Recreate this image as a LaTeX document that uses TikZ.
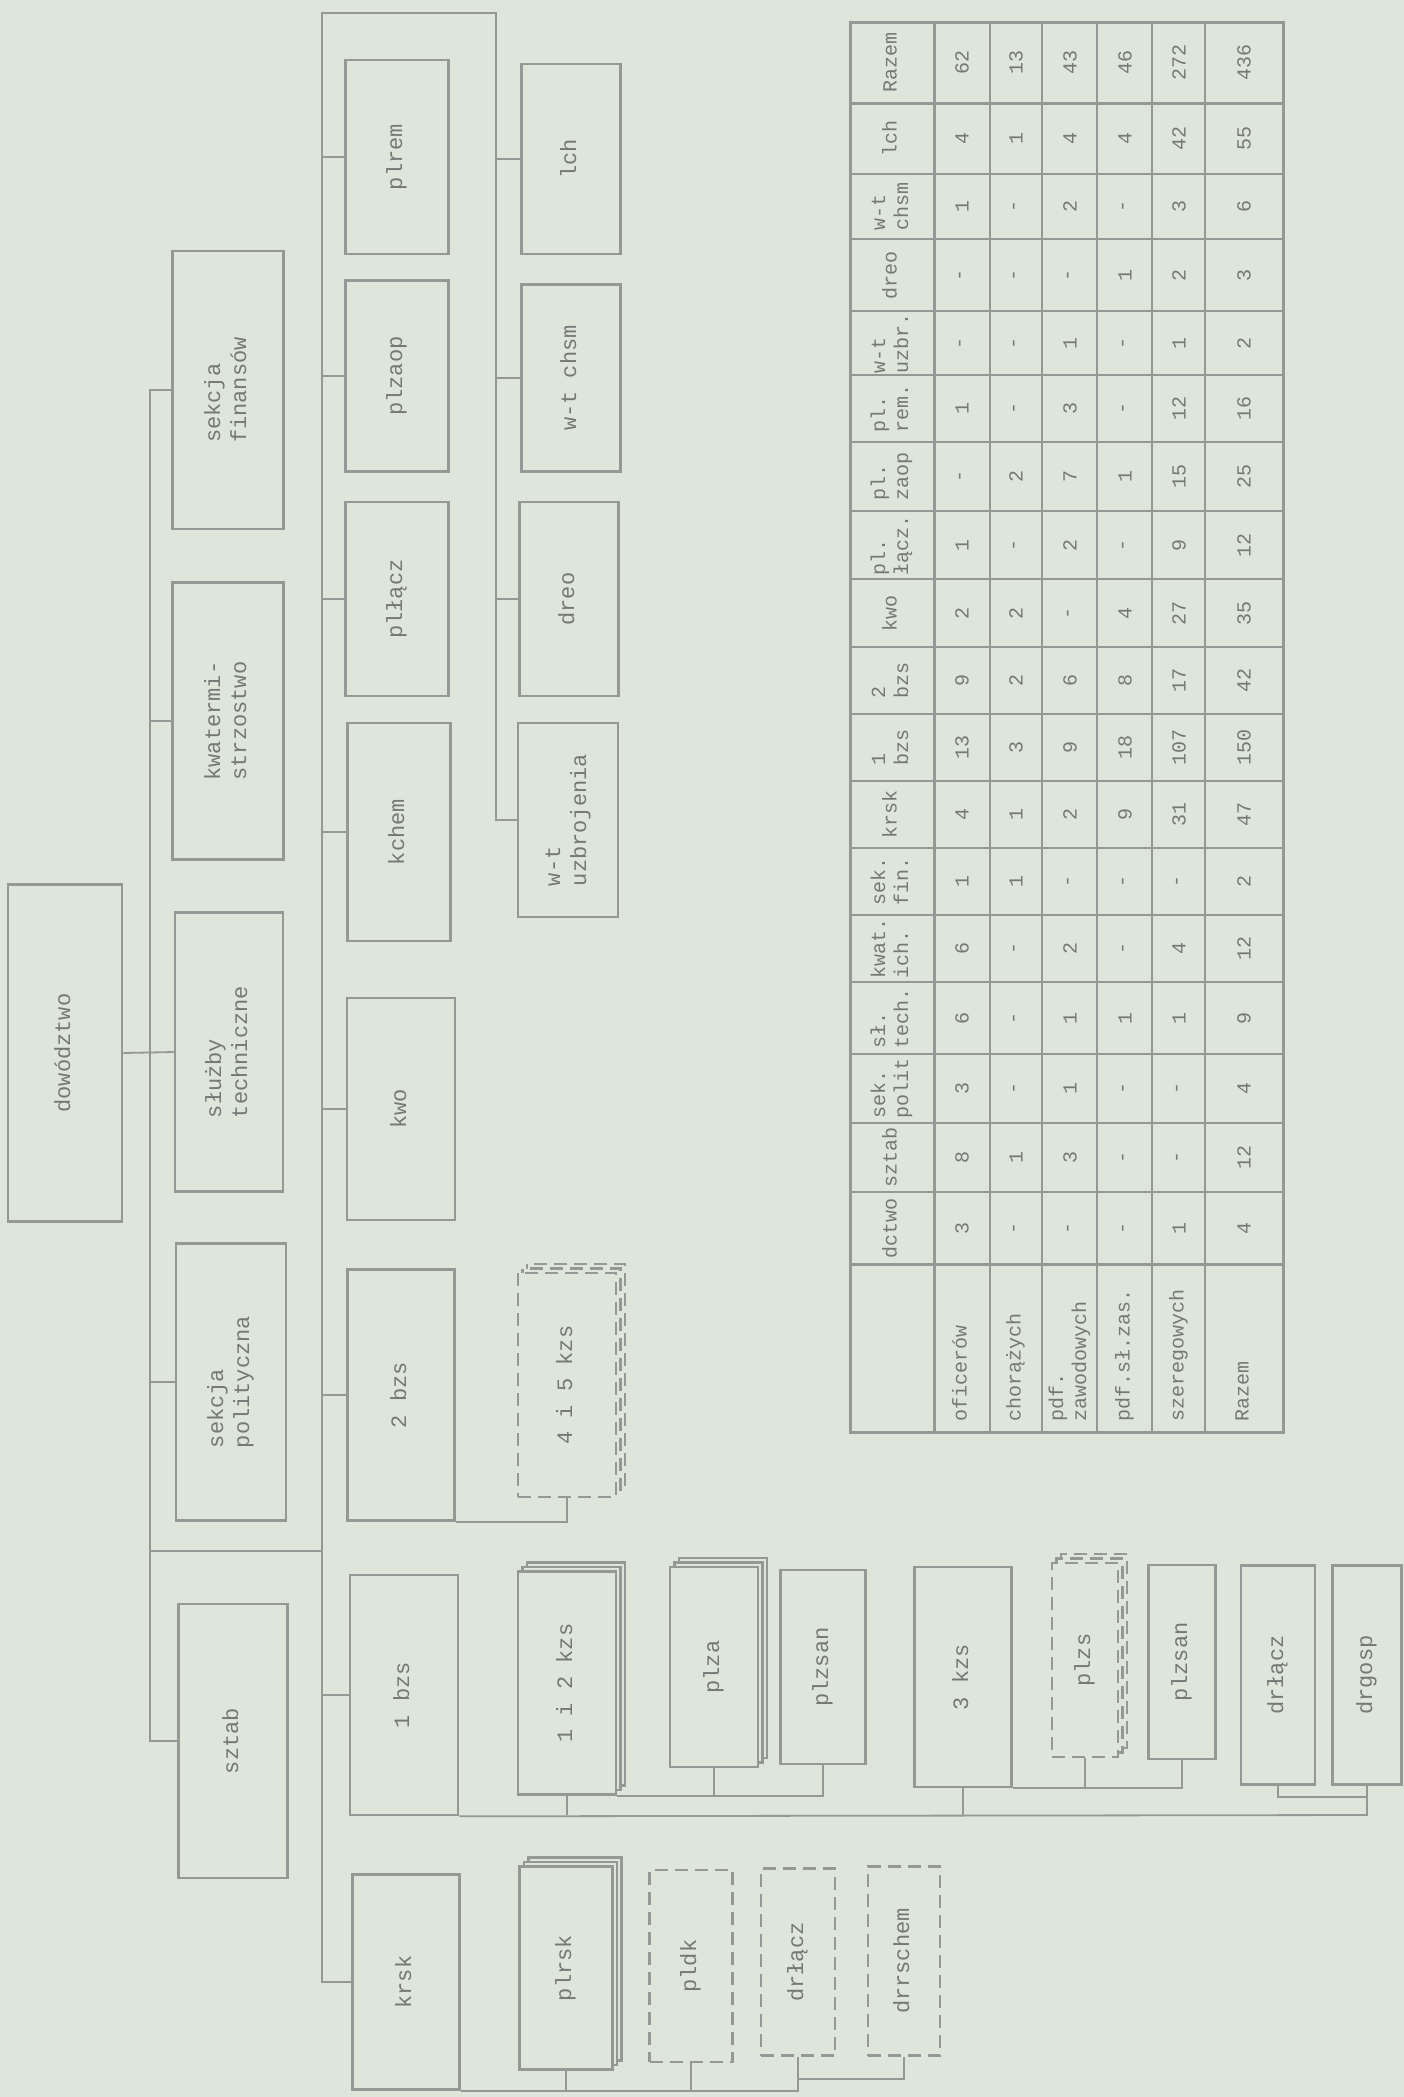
\documentclass[tikz,border=0pt]{standalone}
\usepackage{fontspec}
\usepackage{graphicx}
\setmonofont{Liberation Mono}
\usetikzlibrary{shadows}

\definecolor{paper}{RGB}{222,230,219}
\definecolor{ink}{RGB}{150,152,150}
\definecolor{type}{RGB}{118,120,118}

% label read from bottom to top, lines left aligned
\newcommand{\vlab}[1]{\rotatebox{90}{\begin{tabular}{@{}l@{}}#1\end{tabular}}}

\begin{document}
\begin{tikzpicture}[x=1pt, y=-1pt,
    sz/.style 2 args={minimum width=#1pt, minimum height=#2pt},
    box/.style={draw=ink, line width=2.6pt, fill=paper, inner sep=0pt,
      text=type, font=\ttfamily\fontsize{22}{26}\selectfont},
    stack/.style={box,
      copy shadow={shadow xshift=9pt, shadow yshift=9pt, draw=ink, fill=paper},
      copy shadow={shadow xshift=4.5pt, shadow yshift=4.5pt, draw=ink, fill=paper}},
    dbox/.style={box, dash pattern=on 13pt off 7pt},
    dstack/.style={stack, dash pattern=on 13pt off 7pt},
    link/.style={draw=ink, line width=1.8pt},
    grid/.style={draw=ink, line width=1.8pt},
    cell/.style={inner sep=0pt, text=type,
      font=\ttfamily\fontsize{20}{23}\selectfont}]
  \fill[paper] (0,0) rectangle (1404,2097);
  \useasboundingbox (0,0) rectangle (1404,2097);

  % --- Command, staff and sections ---
  \node[box, sz={114}{337}] (dow) at (65,1053) {\vlab{dowództwo}};
  \node[box, sz={111}{278}] (fin) at (228,390) {\vlab{sekcja\\finansów}};
  \node[box, sz={111}{277}] (kwat) at (228,721) {\vlab{kwatermi-\\strzostwo}};
  \node[box, sz={108}{279}] (tech) at (229,1052) {\vlab{służby\\techniczne}};
  \node[box, sz={110}{277}] (pol) at (231,1382) {\vlab{sekcja\\polityczna}};
  \node[box, sz={109}{274}] (sztab) at (233,1741) {\vlab{sztab}};

  % --- Sub-units ---
  \node[box, sz={103}{194}] (plrem) at (397,157) {\vlab{plrem}};
  \node[box, sz={103}{191}] (plzaop) at (397,376) {\vlab{plzaop}};
  \node[box, sz={103}{194}] (pllacz) at (397,599) {\vlab{plłącz}};
  \node[box, sz={103}{218}] (kchem) at (399,832) {\vlab{kchem}};
  \node[box, sz={108}{222}] (kwo) at (401,1109) {\vlab{kwo}};
  \node[box, sz={107}{251}] (bzs2) at (401,1395) {\vlab{2 bzs}};
  \node[box, sz={108}{240}] (bzs1) at (404,1695) {\vlab{1 bzs}};
  \node[box, sz={107}{215}] (krsk) at (406,1982) {\vlab{krsk}};

  \node[box, sz={99}{190}] (lch) at (571,159) {\vlab{lch}};
  \node[box, sz={99}{187}] (chsm) at (571,378) {\vlab{w-t chsm}};
  \node[box, sz={99}{194}] (dreo) at (569,599) {\vlab{dreo}};
  \node[box, sz={100}{194}] (uzbr) at (568,820) {\vlab{w-t\\uzbrojenia}};
  \node[dstack, sz={98}{224}] (kzs45) at (567,1385) {\vlab{4 i 5 kzs}};
  \node[stack, sz={98}{223}] (kzs12) at (567,1683) {\vlab{1 i 2 kzs}};
  \node[stack, sz={93}{203}] (plrsk) at (566,1968) {\vlab{plrsk}};

  \node[stack, sz={88}{200}] (plza) at (714,1667) {\vlab{plza}};
  \node[box, sz={85}{194}] (plzsanA) at (823,1667) {\vlab{plzsan}};
  \node[box, sz={97}{220}] (kzs3) at (963,1677) {\vlab{3 kzs}};
  \node[dstack, sz={66}{194}] (plzs) at (1085,1660) {\vlab{plzs}};
  \node[box, sz={67}{194}] (plzsanB) at (1182,1662) {\vlab{plzsan}};
  \node[box, sz={74}{219}] (drlaczA) at (1278,1675) {\vlab{drłącz}};
  \node[box, sz={69}{219}] (drgosp) at (1367,1675) {\vlab{drgosp}};

  \node[dbox, sz={83}{192}] (pldk) at (691,1966) {\vlab{pldk}};
  \node[dbox, sz={74}{187}] (drlaczB) at (798,1962) {\vlab{drłącz}};
  \node[dbox, sz={72}{189}] (drrschem) at (904,1961) {\vlab{drrschem}};

  % --- Connectors ---
  \coordinate (sp1) at (150,390);
  \coordinate (sp2) at (322,13);
  \coordinate (sp3) at (496,13);
  \coordinate (j1) at (150,1551);
  \draw[link] (dow.east) -- (tech.west);
  \draw[link] (fin.west) -- (sp1) |- (sztab.west);
  \foreach \n in {kwat,pol}
    \draw[link] (\n.west) -- (\n.west -| sp1);
  \draw[link] (j1) -- (j1 -| sp2);
  \draw[link] (krsk.west) -| (sp2) -- (sp3) |- (uzbr.west);
  \foreach \n in {plrem,plzaop,pllacz,kchem,kwo,bzs2,bzs1}
    \draw[link] (\n.west) -- (\n.west -| sp2);
  \foreach \n in {lch,chsm,dreo}
    \draw[link] (\n.west) -- (\n.west -| sp3);

  % 2 bzs
  \draw[link] (bzs2.south east) -| (kzs45.south);
  % 1 bzs
  \coordinate (busA) at (1367,1815);
  \coordinate (brA) at (1367,1797);
  \draw[link] (bzs1.south east) -- (busA) -- (drgosp.south);
  \draw[link] (drlaczA.south) |- (brA);
  \draw[link] (kzs12.south) -- (kzs12.south |- busA);
  \draw[link] (kzs3.south) -- (kzs3.south |- busA);
  \draw[link] (plza.south) |- (kzs12.south east);
  \draw[link] (plzsanA.south) |- (kzs12.south east);
  \draw[link] (plzsanB.south) |- (kzs3.south east);
  \draw[link] (plzs.south) -- (plzs.south |- kzs3.south east);
  % krsk
  \coordinate (brB) at (798,2079);
  \draw[link] (krsk.south east) -| (drlaczB.south);
  \draw[link] (drrschem.south) |- (brB);
  \draw[link] (plrsk.south) -- (plrsk.south |- krsk.south east);
  \draw[link] (pldk.south) -- (pldk.south |- krsk.south east);

  % --- Table of posts ---
  \foreach \x in {990,1042,1097,1152,1205}
    \draw[grid] (\x,22) -- (\x,1432);
  \foreach \y in {174,239,311,375,442,511,579,647,714,781,848,915,982,1054,1123,1192}
    \draw[grid] (850,\y) -- (1283,\y);
  \draw[grid, line width=3pt] (934,22) -- (934,1432);
  \draw[grid, line width=3pt] (850,103) -- (1283,103);
  \draw[grid, line width=3pt] (850,1264) -- (1283,1264);
  \draw[grid, line width=3pt] (850,22) rectangle (1283,1432);

  \foreach \yc/\hd/\va/\vb/\vc/\vd/\ve/\vf [count=\r] in {
      62.5/Razem/62/13/43/46/272/436,
      138.5/lch/4/1/4/4/42/55,
      206.5/{w-t\\chsm}/1/-/2/-/3/6,
      275/dreo/-/-/-/1/2/3,
      343/{w-t\\uzbr.}/-/-/1/-/1/2,
      408.5/{pl.\\rem.}/1/-/3/-/12/16,
      476.5/{pl.\\zaop}/-/2/7/1/15/25,
      545/{pl.\\łącz.}/1/-/2/-/9/12,
      613/kwo/2/2/-/4/27/35,
      680.5/{2\\bzs}/9/2/6/8/17/42,
      747.5/{1\\bzs}/13/3/9/18/107/150,
      814.5/krsk/4/1/2/9/31/47,
      881.5/{sek.\\fin.}/1/1/-/-/-/2,
      948.5/{kwat.\\ich.}/6/-/2/-/4/12,
      1018/{sł.\\tech.}/6/-/1/1/1/9,
      1088.5/{sek.\\polit}/3/-/1/-/-/4,
      1157.5/sztab/8/1/3/-/-/12,
      1228/dctwo/3/-/-/-/1/4} {
    \node[cell] (h\r) at (892,\yc) {\vlab{\hd}};
    \foreach \v/\xc [count=\c] in {\va/962,\vb/1016,\vc/1070,\vd/1125,\ve/1179,\vf/1244}
      \node[cell] (v\r-\c) at (\xc,\yc) {\rotatebox{90}{\v}};
  }
  \foreach \lb/\xc [count=\c] in {oficerów/962, chorążych/1016,
      {pdf.\\zawodowych}/1070, pdf.sł.zas./1125, szeregowych/1179, Razem/1244}
    \node[cell, anchor=south] (lab\c) at (\xc,1422) {\vlab{\lb}};
\end{tikzpicture}
\end{document}
